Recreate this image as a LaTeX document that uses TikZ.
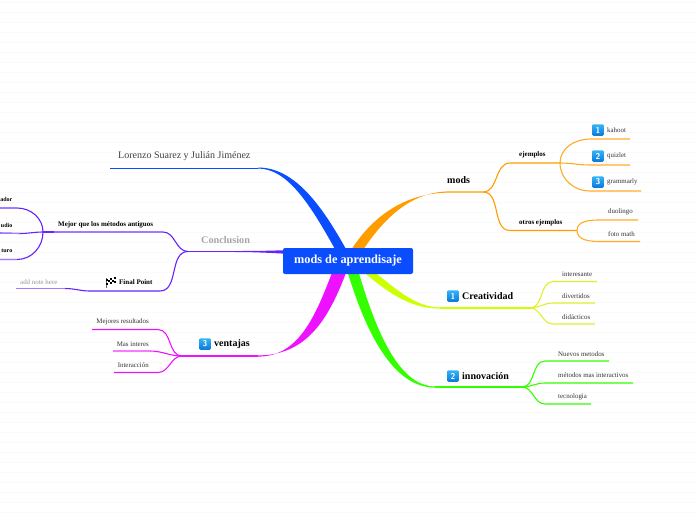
\documentclass[tikz,border=0pt]{standalone}
\usepackage{fontspec}
\setmainfont{Liberation Serif}
\usepackage{xcolor}
\usepackage{tikz}
\usetikzlibrary{positioning}

\definecolor{rootblue}{HTML}{0A4DFF}
\definecolor{brorange}{HTML}{FF9C00}
\definecolor{bryellow}{HTML}{CCFF00}
\definecolor{twigyellow}{HTML}{DDF02E}
\definecolor{brgreen}{HTML}{33FF00}
\definecolor{brmagenta}{HTML}{EE11FF}
\definecolor{brpurple}{HTML}{6622FF}
\definecolor{lightpurple}{HTML}{A07CFF}
\definecolor{icontop}{HTML}{35B4F5}
\definecolor{iconlow}{HTML}{0A78DC}

\tikzset{
  twig/.style={line width=1.1pt},
  topic/.style={font=\fontsize{10}{11}\selectfont\bfseries, inner sep=0pt, anchor=west},
  subtopic/.style={font=\fontsize{7}{8}\selectfont\bfseries, inner sep=0pt, anchor=west},
  leaf/.style={font=\fontsize{6.9}{8}\selectfont, text=black!80, inner sep=0pt, anchor=west},
  numicon/.style={rounded corners=1.2pt, top color=icontop, bottom color=iconlow,
    text=white, font=\fontsize{8.5}{8.5}\selectfont\sffamily\bfseries, inner sep=0pt,
    minimum size=11.5pt}
}

\begin{document}
\begin{tikzpicture}[x=1pt,y=-1pt]
  \useasboundingbox (0,0) rectangle (696,520);

  % faint background lines
  \foreach \k in {0,...,51}{
    \draw[black!2, line width=0.8pt] (0,2.5+10*\k) -- (696,2.5+10*\k);
  }

  % root
  \coordinate (blueend) at (258,168);
  \coordinate (orangeend) at (450,192);
  \coordinate (yellowend) at (440,308);
  \coordinate (greenend) at (435,387);
  \coordinate (magentaend) at (258,356);
  \coordinate (purpleend) at (235,251.5);

  % thick branches
  \fill[rootblue] (335.5,250) .. controls (311,206) and (288,168.5) .. (258,168.5)
    -- (258,167.5) .. controls (294,167.5) and (321,204) .. (346.5,250) -- cycle;
  \fill[brorange] (351,250) .. controls (375,213) and (408,192.6) .. (450,192.6)
    -- (450,191.4) .. controls (412,191.4) and (385,217) .. (363,250) -- cycle;
  \fill[bryellow] (361,270) .. controls (385,290) and (408,308.6) .. (440,308.6)
    -- (440,307.4) .. controls (415,307.4) and (395,288) .. (372,270) -- cycle;
  \fill[brgreen] (347,270) .. controls (365,330) and (392,387.6) .. (435,387.6)
    -- (435,386.4) .. controls (398,386.4) and (375,328) .. (358,270) -- cycle;
  \fill[brmagenta] (333,270) .. controls (315,318) and (298,356.6) .. (258,356.6)
    -- (258,355.4) .. controls (305,355.4) and (328,322) .. (347,270) -- cycle;
  \fill[brpurple] (290,250) .. controls (265,251) and (250,251) .. (235,251)
    -- (235,252) .. controls (250,252) and (265,252.5) .. (290,254) -- cycle;

  \node[fill=rootblue, rounded corners=2pt, minimum width=130pt, minimum height=26pt, inner sep=0pt,
    text=white, font=\fontsize{12.3}{14}\selectfont\bfseries] (root) at (348,261) {mods de aprendisaje};

  % mods
  \coordinate (modsfork) at (483,192);
  \coordinate (ejemplosfork) at (560,163);
  \coordinate (otrosfork) at (577,230.5);
  \node[topic] (mods) at (447,180) {mods};
  \node[subtopic] (ejemplos) at (519,155) {ejemplos};
  \node[subtopic] (otros) at (519,223) {otros ejemplos};
  \draw[brorange, twig] (orangeend) -- (modsfork)
    to[out=0,in=180] (510,163) -- (ejemplosfork);
  \draw[brorange, twig] (modsfork) to[out=0,in=180] (510,230.5) -- (otrosfork);
  \foreach \nm/\ypos/\xend/\num/\txt in {kahoot/130/630/1/kahoot, quizlet/156/630/2/quizlet, grammarly/182/641/3/grammarly}{
    \node[numicon] (icon\nm) at (598,\ypos) {\num};
    \node[leaf] (\nm) at (607,\ypos) {\txt};
    \coordinate (\nm end) at (\xend,\ypos+9);
  }
  \draw[brorange!85, twig] (ejemplosfork) to[out=90,in=180] (590,139) -- (kahootend);
  \draw[brorange!85, twig] (ejemplosfork) to[out=0,in=180] (590,165) -- (quizletend);
  \draw[brorange!85, twig] (ejemplosfork) to[out=-90,in=180] (590,191) -- (grammarlyend);
  \node[leaf] (duolingo) at (608,212) {duolingo};
  \node[leaf] (fotomath) at (608,234) {foto math};
  \coordinate (duolingoend) at (638,220);
  \coordinate (fotomathend) at (640,241.5);
  \draw[brorange!85, twig] (otrosfork) to[out=90,in=180] (600,220) -- (duolingoend);
  \draw[brorange!85, twig] (otrosfork) to[out=-90,in=180] (600,241.5) -- (fotomathend);

  % Creatividad
  \coordinate (creafork) at (530,308);
  \node[numicon] (iconcrea) at (453,296) {1};
  \node[topic] (crea) at (462,296) {Creatividad};
  \draw[bryellow, twig] (yellowend) -- (creafork);
  \foreach \nm/\ypos/\ylow/\xend/\txt in {interesante/274/281.5/597/interesante, divertidos/296/303/595/divertidos, didacticos/317/324/595/didácticos}{
    \node[leaf] (\nm) at (562,\ypos) {\txt};
    \coordinate (\nm end) at (\xend,\ylow);
    \draw[twigyellow, twig] (creafork) to[out=0,in=180] (553,\ylow) -- (\nm end);
  }

  % innovacion
  \coordinate (innofork) at (522,387);
  \node[numicon] (iconinno) at (453,376) {2};
  \node[topic] (inno) at (462,376) {innovación};
  \draw[brgreen, twig] (greenend) -- (innofork);
  \foreach \nm/\ypos/\ylow/\xend/\txt in {nuevos/354/361/609/Nuevos metodos, metodos/375/383/633/métodos mas interactivos, tecno/397/404/591/tecnologia}{
    \node[leaf] (\nm) at (558,\ypos) {\txt};
    \coordinate (\nm end) at (\xend,\ylow);
    \draw[brgreen, twig] (innofork) to[out=0,in=180] (545,\ylow) -- (\nm end);
  }

  % ventajas
  \coordinate (ventfork) at (182,356);
  \node[numicon] (iconvent) at (205,344) {3};
  \node[topic] (vent) at (214,344) {ventajas};
  \draw[brmagenta, twig] (magentaend) -- (ventfork);
  \foreach \nm/\ypos/\ylow/\xend/\xbend/\txt in {mejores/322/329.5/92/158/Mejores resultados, interes/344/351/113/150/Mas interes, interaccion/365/372.5/114/158/Interacción}{
    \node[leaf, anchor=east] (\nm) at (149,\ypos) {\txt};
    \coordinate (\nm end) at (\xend,\ylow);
    \draw[brmagenta, twig] (ventfork) to[out=180,in=0] (\xbend,\ylow) -- (\nm end);
  }
  \draw[brmagenta!55, twig] (150,351) -- (interesend);

  % Conclusion
  \coordinate (concfork) at (188,251.5);
  \coordinate (mejorfork) at (43,232);
  \node[inner sep=0pt, anchor=west, text=black!35, font=\fontsize{10.2}{11}\selectfont\bfseries] (conc) at (201,240) {Conclusion};
  \node[font=\fontsize{10}{12}\selectfont, text=black!75, inner sep=0pt, anchor=west] (lorenzo) at (118,156) {Lorenzo Suarez y Julián Jiménez};
  \coordinate (lorenzoend) at (110,168);
  \draw[rootblue, line width=1pt] (blueend) -- (lorenzoend);
  \draw[brpurple, line width=1pt] (purpleend) -- (concfork);
  \node[subtopic] (mejor) at (58,225) {Mejor que los métodos antiguos};
  \draw[brpurple, twig] (concfork) to[out=180,in=0] (163,232) -- (mejorfork);
  \draw[lightpurple, twig] (163,232) -- (60,232);
  \draw[brpurple, line width=1.4pt] (mejorfork) -- (54,232);
  \foreach \nm/\ypos/\ylow/\txt in {ador/199/208/ador, udio/225/233/udio, turo/251/259.5/turo}{
    \node[subtopic, font=\fontsize{6}{7}\selectfont\bfseries, anchor=east] (\nm) at (12.5,\ypos) {\txt};
    \coordinate (\nm end) at (0,\ylow);
  }
  \draw[brpurple, twig] (mejorfork) to[out=90,in=0] (17,208) -- (adorend);
  \draw[lightpurple, twig] (17,208) -- (adorend);
  \draw[brpurple, twig] (mejorfork) to[out=180,in=0] (20,233.5) -- (udioend);
  \draw[lightpurple, twig] (20,233.5) -- (udioend);
  \draw[brpurple, twig] (mejorfork) to[out=-90,in=0] (17,259.5) -- (turoend);
  \draw[lightpurple, twig] (17,259.5) -- (turoend);

  % Final Point
  \node[subtopic] (final) at (119,282) {Final Point};
  \node[leaf, text=black!40] (note) at (20,282) {add note here};
  \coordinate (noteend) at (16,288.5);
  \draw[brpurple, twig] (concfork) to[out=180,in=0] (160,291) -- (90,291)
    to[out=180,in=0] (65,288.5);
  \draw[lightpurple, twig] (65,288.5) -- (noteend);

  % flag
  \draw[black!60, line width=0.5pt] (106,288) -- (106,278);
  \foreach \i in {0,...,4}{
    \foreach \j in {0,1,2}{
      \pgfmathtruncatemacro{\odd}{mod(\i+\j,2)}
      \ifnum\odd=0
        \fill[black] (106.3+2*\i,278.5+2*\j-0.3*\i) rectangle ++(2,2);
      \fi
    }
  }
\end{tikzpicture}
\end{document}
